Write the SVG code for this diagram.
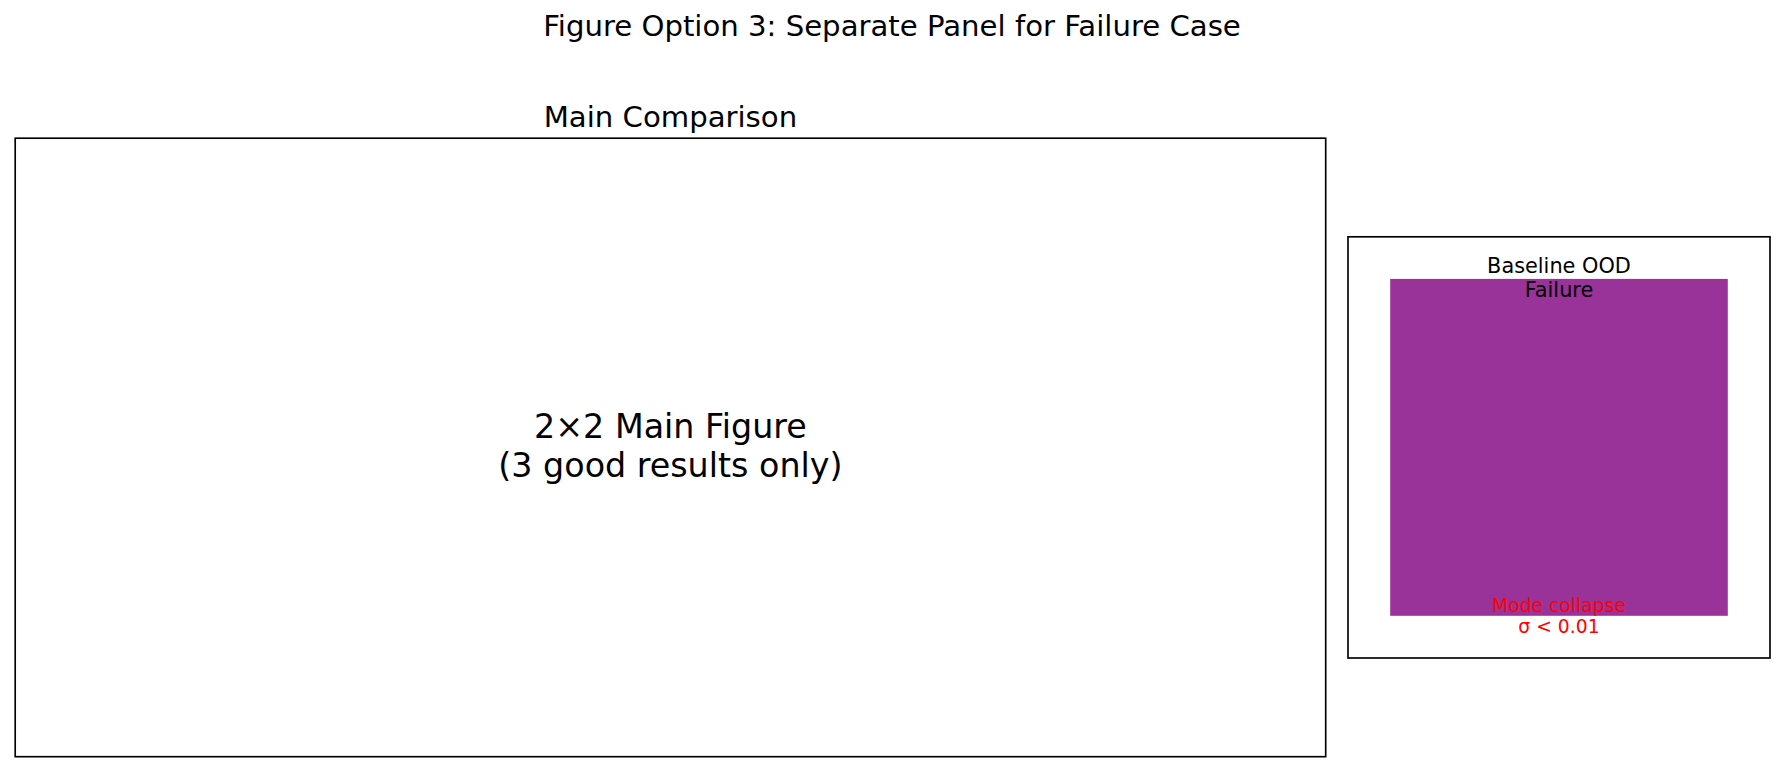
<svg xmlns="http://www.w3.org/2000/svg" width="1784" height="772" viewBox="0 0 1784 772">
<style>
text{font-family:"DejaVu Sans",sans-serif;text-anchor:middle;fill:#000}
.frame{fill:none;stroke:#000;stroke-width:1.67}
.t{font-size:29.17px}
.big{font-size:33.33px}
.lbl{font-size:20.83px}
.red{font-size:18.75px;fill:#ff0000}
</style>
<rect width="1784" height="772" fill="#fff"/>
<text class="t" x="892" y="35.5">Figure Option 3: Separate Panel for Failure Case</text>
<g id="main-panel">
<text class="t" x="670.4" y="126.7">Main Comparison</text>
<rect class="frame" x="15.2" y="138.2" width="1310.5" height="618.5"/>
<text class="big" x="670.4" y="438.3">2×2 Main Figure</text>
<text class="big" x="670.4" y="477">(3 good results only)</text>
</g>
<g id="failure-panel">
<rect class="frame" x="1348" y="236.8" width="422" height="421.2"/>
<rect x="1390.2" y="278.9" width="337.6" height="336.9" fill="#993399"/>
<text class="lbl" x="1559" y="273.3">Baseline OOD</text>
<text class="lbl" x="1559" y="296.7">Failure</text>
<text class="red" x="1559" y="611.7">Mode collapse</text>
<text class="red" x="1559" y="633.3">σ &lt; 0.01</text>
</g>
<g id="connectors"></g>
</svg>
